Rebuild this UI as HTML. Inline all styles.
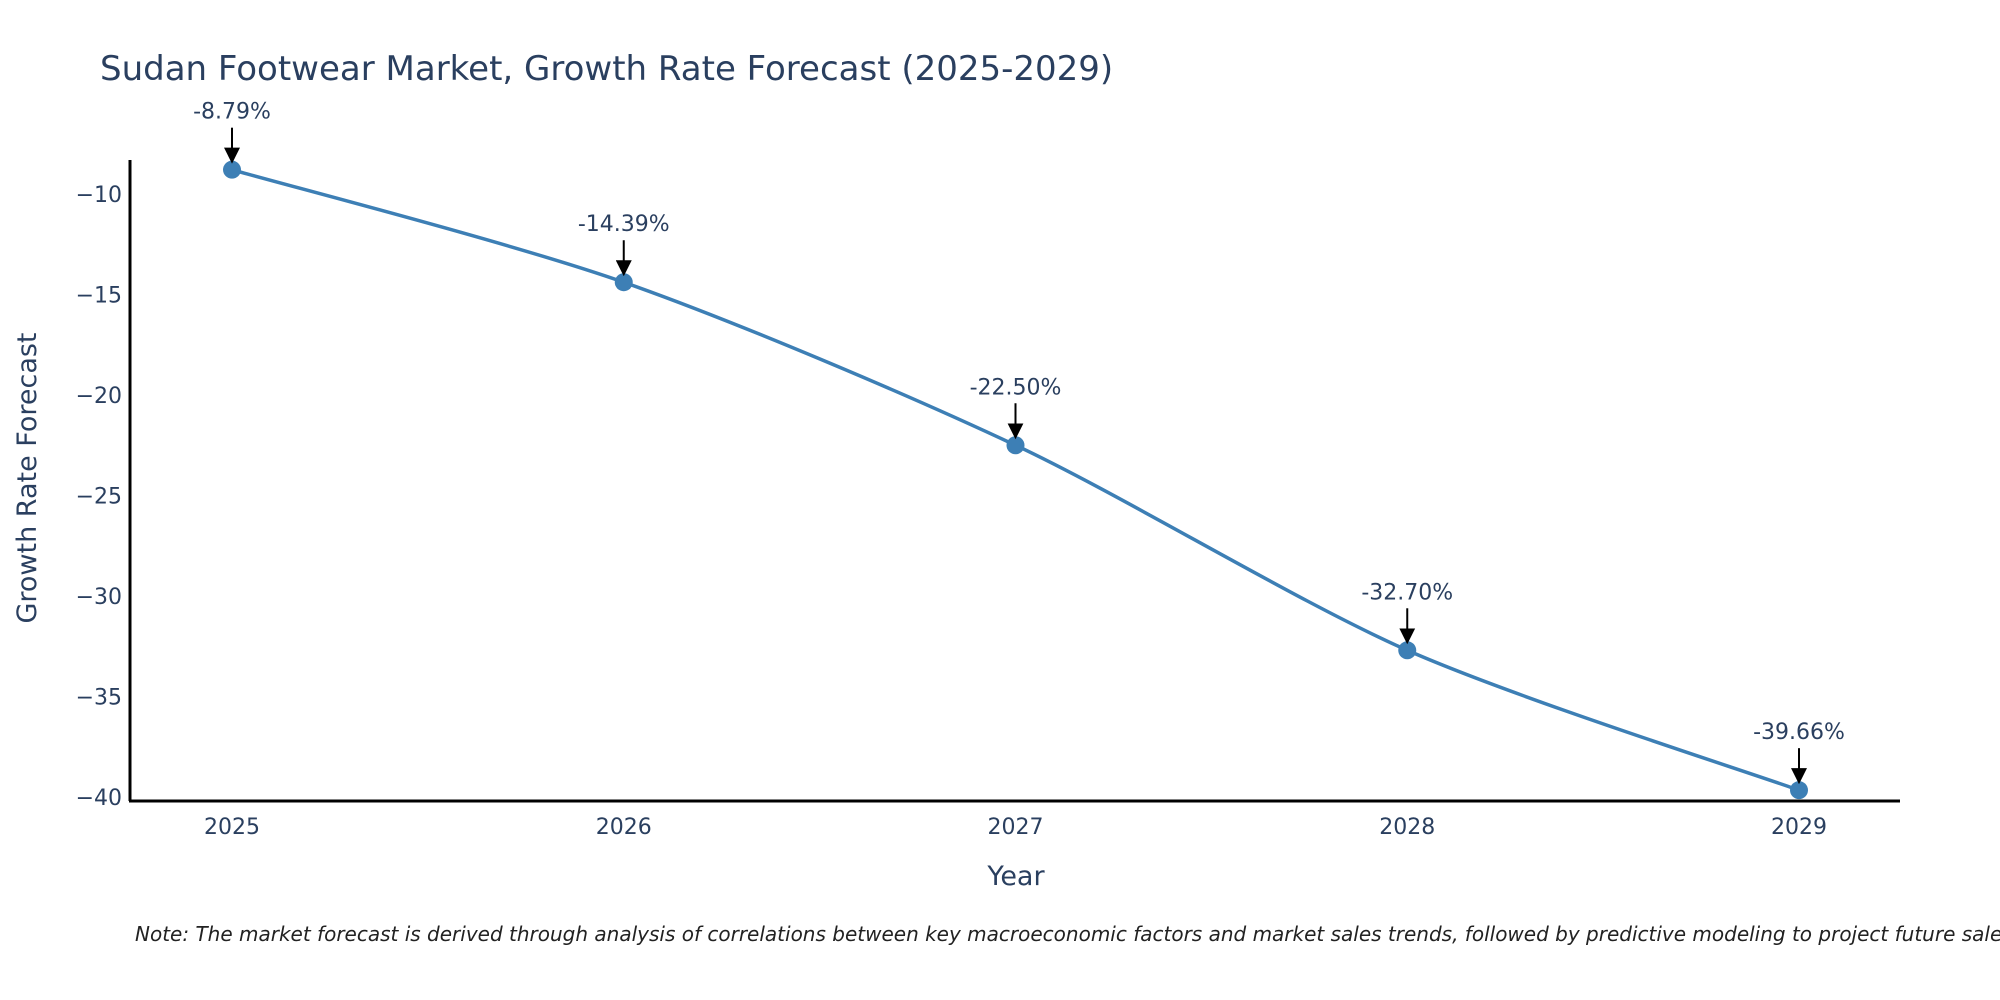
<!DOCTYPE html>
<html><head><meta charset="utf-8"><style>
body{margin:0;background:#fff;}
svg{display:block;font-family:"DejaVu Sans","Liberation Sans",sans-serif;}
</style></head><body>
<svg id="chart" width="2000" height="1000" viewBox="0 0 2000 1000">
<defs><marker id="ah" markerWidth="8" markerHeight="8" refX="7" refY="4" orient="auto" markerUnits="strokeWidth"><path d="M0,0 L8,4 L0,8 Z" fill="#000"/></marker></defs>
<text x="100" y="80" font-size="34" fill="#2a3f5f">Sudan Footwear Market, Growth Rate Forecast (2025-2029)</text>
<g id="yticks"></g>
<g id="xticks"></g>
<line x1="130" y1="160" x2="130" y2="801" stroke="#000" stroke-width="3"/>
<line x1="129" y1="801" x2="1900" y2="801" stroke="#000" stroke-width="3"/>
<path id="line" fill="none" stroke="#3d7fb5" stroke-width="3.5"/>
<g id="marks"></g>
<text x="1016" y="885" font-size="27" fill="#2a3f5f" text-anchor="middle">Year</text>
<text transform="translate(36,478) rotate(-90)" font-size="27" fill="#2a3f5f" text-anchor="middle">Growth Rate Forecast</text>
<text x="135" y="941" font-size="20" font-style="italic" fill="#222">Note: The market forecast is derived through analysis of correlations between key macroeconomic factors and market sales trends, followed by predictive modeling to project future sales.</text>
</svg>
<script>
const years=[2025,2026,2027,2028,2029];
const values=[-8.79,-14.39,-22.50,-32.70,-39.66];
const labels=["-8.79%","-14.39%","-22.50%","-32.70%","-39.66%"];
const yTicks=[-10,-15,-20,-25,-30,-35,-40];
const NS="http://www.w3.org/2000/svg";
const xs=y=>232+(y-2025)*391.75;
const ys=v=>194+(-10-v)*20.1;
function mk(t,a,p){const e=document.createElementNS(NS,t);for(const k in a)e.setAttribute(k,a[k]);p.appendChild(e);return e;}
const yt=document.getElementById('yticks');
yTicks.forEach(v=>{const t=mk('text',{x:122,y:ys(v)+8,'font-size':22,fill:'#2a3f5f','text-anchor':'end'},yt);


t.textContent='\u2212'+Math.abs(v);});
const xt=document.getElementById('xticks');
years.forEach(y=>{const t=mk('text',{x:xs(y),y:834,'font-size':22,fill:'#2a3f5f','text-anchor':'middle'},xt);


t.textContent=y;});
const P=years.map((y,i)=>[xs(y),ys(values[i])]);
let d='M'+P[0][0]+','+P[0][1];const s=0.28;
for(let i=0;i<P.length-1;i++){const p0=P[Math.max(0,i-1)],p1=P[i],p2=P[i+1],p3=P[Math.min(P.length-1,i+2)];
const c1=[p1[0]+(p2[0]-p0[0])*s/2,p1[1]+(p2[1]-p0[1])*s/2],c2=[p2[0]-(p3[0]-p1[0])*s/2,p2[1]-(p3[1]-p1[1])*s/2];
d+=` C${c1[0]},${c1[1]} ${c2[0]},${c2[1]} ${p2[0]},${p2[1]}`;}
document.getElementById('line').setAttribute('d',d);
const g=document.getElementById('marks');
P.forEach((p,i)=>{const c=mk('circle',{cx:p[0],cy:p[1],r:9,fill:'#3d7fb5'},g);


const a=mk('line',{x1:p[0],y1:p[1]-42,x2:p[0],y2:p[1]-8,stroke:'#000','stroke-width':2,'marker-end':'url(#ah)'},g);


const t=mk('text',{x:p[0],y:p[1]-51,'font-size':22,fill:'#2a3f5f','text-anchor':'middle'},g);


t.textContent=labels[i];});
</script>
</body></html>
